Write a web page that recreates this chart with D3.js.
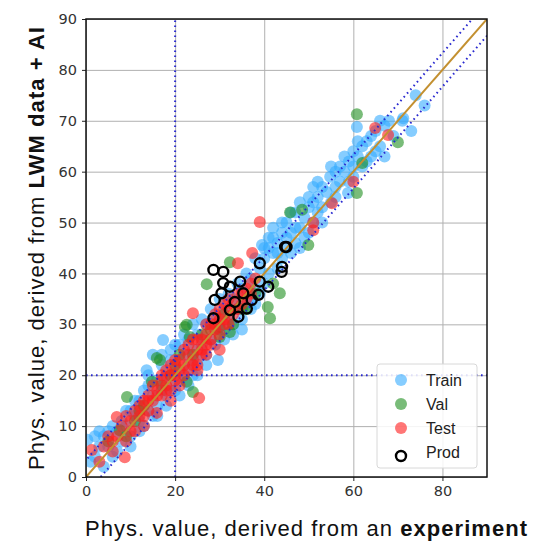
<!DOCTYPE html>
<html>
<head>
<meta charset="utf-8">
<script src="https://cdn.jsdelivr.net/npm/d3@7"></script>
<style>
  body { margin: 0; background: #fff; }
  svg { display: block; font-family: "DejaVu Sans", "Liberation Sans", sans-serif; }
</style>
</head>
<body>
<div id="chart"></div>
<script>
// Data, [experiment, LWM + AI]
var trainPts = [
  [0.3,7.3],[1,3],[2,4],[2,8],[3,6],[3,9],[4,8],[4,2],[5,6],[5,9],[6,4],[6,10],[7,9],[7,5],[8,7],[8,11],
  [9,10],[9,13],[10,8],[10,13],[10,6],[11,12],[11,15],[12,15],[12,11],[12,9],[13,17],[13,10],[13.6,21],
  [14,13],[14,18],[14,20],[15,16],[15,24],[15,12],[16,19],[16,14],[16,12],[17.3,26.9],[17,22],[17,17],
  [17,24],[18,16],[18,20],[18,14],[19,23],[19,18],[19,25],[20,21],[20,17],[20,26],[21,26],[21,19],
  [21,16],[22,24],[22,20],[22,28],[23,22],[23,27],[23,18],[24,25],[24,20],[24,30],[25,28],[25,23],
  [25,20],[26,26],[26,31],[27,30],[27,24],[27,22],[28,27],[28,33],[29.6,23],[29,31],[29,26],[30,29],
  [30,35],[31,33],[31,27],[31,29],[32,31],[32,36],[33,35],[33,30],[33,28],[34,33],[34,38],[35,37],
  [35,31],[35,29],[36,34],[36,40],[37,39],[37,35],[37,33],[38,37],[38,43],[38,34],[39,41],[39,36],
  [40,38],[40,43],[40,45],[39.5,45.6],[41,45],[41,40],[41,47],[42,44],[42,47],[42,49],[43,41],[43,46],
  [43,44],[44,43],[44,48],[44,50],[45,45],[45,50],[45,47],[46,44],[46,48],[46,52],[47,46],[47,52],
  [47,49],[48,49],[48,45],[48,54],[49,51],[49,47],[50,48],[50,53],[50,55],[51,54],[51,50],[51,57],
  [52,55],[52,52],[52,58],[53,57],[53,53],[53,50],[54,56],[54.8,59],[55,54],[55,61],[56,60],[56,55],
  [56,57],[57,58],[57,61],[58,60],[58.8,55.8],[58,63],[59,62],[59,58],[60,59],[60,64],[60,61],
  [60.8,68.8],[61,63],[61,66],[62,65],[62,61],[63,66],[63,62],[64,63],[64,67],[65,68],[65,64],[66,65],
  [66,70],[67,63],[67,69],[68,70],[69,67],[71,70],[71.2,70.5],[73,68],[76,73],[74,75]
];
var valPts = [
  [5,7],[7.6,9.2],[9,8],[9.2,15.7],[11,11],[13,14],[14.8,18.7],[15.9,23.4],[16.6,23],[17,18],[19,20],
  [20,22],[21,24],[22.6,18.7],[24,16.7],[22.2,29.5],[23.3,27.5],[22.6,29.9],[24,24],[26,28],[28,29],
  [30,29.5],[30,27.5],[31,32],[32.3,28.5],[33,30],[27.1,37.9],[32.3,42.2],[35,33],[36,33],[38,36],
  [43.5,36.1],[40.8,33.4],[41.3,31.2],[42,38],[45.8,52],[48.5,52.5],[49.9,45.6],[60.8,55.8],[62,61.7],
  [60.8,71.3],[70,65.8],[12,13]
];
var testPts = [
  [1.3,5.3],[3,3],[4,6],[5,8],[6,5],[6,7],[6.9,11.8],[7,8],[8,10],[8.7,3.9],[9,7],[9,12],[10,11],[10,9],
  [11,9],[11,13],[12,14],[12,12],[13,12],[13,15],[13,10],[14,16],[14,13],[14,15],[15,15],[15,18],
  [15.9,12.6],[16,17],[16,16],[17,16],[17,19],[17,20],[18,18],[18,21],[18,17],[19,17],[19,20],[19,22],
  [19,15],[20,19],[20,23],[20,20],[21,21],[21,18],[21,23],[22,22],[22,25],[22,20],[23,21],[23,24],
  [23,26],[24,23],[24,27],[24,22],[24,32.2],[25,25],[25,22],[25,27],[25,21],[25.4,15.5],[26,27],[26,24],
  [26,25],[27,28],[27,26],[27,30],[27,24],[28,30],[28,27],[28,26],[29,29],[29,32],[29,30],[30,31],
  [30,28],[30,33],[30,25],[31,30],[31,34],[31,31],[32,33],[32,30],[32,35],[33,32],[33,34],[34,36],
  [34,33],[34.1,42],[35,34],[35,36],[36,37],[36,35],[37,36],[37,38],[37.3,44],[38,39],[39,50.1],
  [51,48.5],[51,50],[55.2,53.8],[60,58],[64.9,68.6],[67.8,67.2]
];
var prodPts = [
  [28.6,40.7],[30.8,40.3],[30.8,38.1],[28.9,34.8],[28.6,31.2],[32.3,37.4],[33.4,34.4],[35.3,36.1],
  [36.1,33.1],[37.2,34.8],[39,42],[39,38.4],[38.7,35.8],[40.9,37.4],[43.9,40.3],[45,45.2],[32.3,32.8],
  [30.4,36.1],[34.6,38.4],[34.2,31.5],[44.7,45.2],[44,41.3]
];
var xTicks = [0, 20, 40, 60, 80];
var yTicks = [0, 10, 20, 30, 40, 50, 60, 70, 80, 90];
var band = 3.3;
var refLine = 20;
var legendItems = ["Train", "Val", "Test", "Prod"];

var width = 537, height = 542;
var margin = { left: 86, right: 50, top: 19, bottom: 65 };
var trainColor = "#36acff", valColor = "#1f8f1f", testColor = "#ff1a1a";

var svg = d3.select("#chart").append("svg")
    .attr("width", width).attr("height", height);

var x = d3.scaleLinear().domain([0, 90]).range([margin.left, width - margin.right]);
var y = d3.scaleLinear().domain([0, 90]).range([height - margin.bottom, margin.top]);

var plot = svg.append("g");

// grid
plot.append("g")
    .attr("transform", "translate(0," + y(0) + ")")
    .call(d3.axisBottom(x).tickValues(xTicks).tickSize(-(y(0) - y(90))).tickFormat(""))
    .call(function(g) {
        g.select(".domain").remove();
        g.selectAll("line").attr("stroke", "#b0b0b0").attr("stroke-width", 1);
    });
plot.append("g")
    .attr("transform", "translate(" + x(0) + ",0)")
    .call(d3.axisLeft(y).tickValues(yTicks).tickSize(-(x(90) - x(0))).tickFormat(""))
    .call(function(g) {
        g.select(".domain").remove();
        g.selectAll("line").attr("stroke", "#b0b0b0").attr("stroke-width", 1);
    });

svg.append("clipPath").attr("id", "clip").append("rect")
    .attr("x", x(0)).attr("y", y(90)).attr("width", x(90) - x(0)).attr("height", y(0) - y(90));

var inner = plot.append("g").attr("clip-path", "url(#clip)");

// points
function dots(pts, fill) {
    inner.append("g").selectAll("circle").data(pts).enter().append("circle")
        .attr("cx", function(d) { return x(d[0]); })
        .attr("cy", function(d) { return y(d[1]); })
        .attr("r", 6)
        .attr("fill", fill)
        .attr("fill-opacity", 0.6);
}
dots(trainPts, trainColor);
dots(valPts, valColor);
dots(testPts, testColor);

// reference lines
var dotted = { stroke: "#2a2ad0", width: 2, dash: "1.6,3.4" };
var line = d3.line().x(function(d) { return x(d[0]); }).y(function(d) { return y(d[1]); });
function dottedPath(seg) {
    inner.append("path").attr("d", line(seg)).attr("fill", "none")
        .attr("stroke", dotted.stroke).attr("stroke-width", dotted.width)
        .attr("stroke-dasharray", dotted.dash);
}
dottedPath([[-10, -10 + band], [100, 100 + band]]);
dottedPath([[-10, -10 - band], [100, 100 - band]]);
dottedPath([[refLine, 0], [refLine, 90]]);
dottedPath([[0, refLine], [90, refLine]]);
inner.append("path").attr("d", line([[0, 0], [90, 90]])).attr("fill", "none")
    .attr("stroke", "#c39030").attr("stroke-width", 2);

inner.append("g").selectAll("circle").data(prodPts).enter().append("circle")
    .attr("cx", function(d) { return x(d[0]); })
    .attr("cy", function(d) { return y(d[1]); })
    .attr("r", 5)
    .attr("fill", "none")
    .attr("stroke", "#000")
    .attr("stroke-width", 2.4);

// axes
var xAxis = svg.append("g").attr("transform", "translate(0," + y(0) + ")")
    .call(d3.axisBottom(x).tickValues(xTicks).tickSize(4).tickPadding(5));
var yAxis = svg.append("g").attr("transform", "translate(" + x(0) + ",0)")
    .call(d3.axisLeft(y).tickValues(yTicks).tickSize(4).tickPadding(5));
[xAxis, yAxis].forEach(function(g) {
    g.select(".domain").remove();
    g.selectAll("text").attr("font-size", 14.5).attr("fill", "#333")
        .style("font-family", "'DejaVu Sans', sans-serif");
    g.selectAll("line").attr("stroke", "#222");
});

svg.append("rect")
    .attr("x", x(0)).attr("y", y(90))
    .attr("width", x(90) - x(0)).attr("height", y(0) - y(90))
    .attr("fill", "none").attr("stroke", "#111").attr("stroke-width", 1.5);

// axis titles
var xt = svg.append("text")
    .attr("x", 85).attr("y", 536)
    .attr("textLength", 442).attr("lengthAdjust", "spacing")
    .attr("font-family", "'Liberation Sans', Arial, sans-serif")
    .attr("font-size", 22).attr("fill", "#111");
xt.append("tspan").text("Phys. value, derived from an ");
xt.append("tspan").attr("font-weight", "bold").text("experiment");

var yt = svg.append("text")
    .attr("transform", "translate(44,470) rotate(-90)")
    .attr("textLength", 443).attr("lengthAdjust", "spacing")
    .attr("font-family", "'Liberation Sans', Arial, sans-serif")
    .attr("font-size", 22).attr("fill", "#111");
yt.append("tspan").text("Phys. value, derived from ");
yt.append("tspan").attr("font-weight", "bold").text("LWM data + AI");

// legend
var lg = svg.append("g").attr("transform", "translate(377,364)");
lg.append("rect").attr("width", 100).attr("height", 104).attr("rx", 3)
    .attr("fill", "#fff").attr("fill-opacity", 0.85)
    .attr("stroke", "#d8d8d8");
var legendFill = [trainColor, valColor, testColor, null];
legendItems.forEach(function(name, i) {
    var cy = 16 + i * 24;
    if (legendFill[i]) {
        lg.append("circle").attr("cx", 24).attr("cy", cy).attr("r", 6)
            .attr("fill", legendFill[i]).attr("fill-opacity", 0.6);
    } else {
        lg.append("circle").attr("cx", 24).attr("cy", cy + 4).attr("r", 5)
            .attr("fill", "none").attr("stroke", "#000").attr("stroke-width", 2.4);
    }
    lg.append("text").attr("x", 49).attr("y", cy + 6)
        .attr("font-family", "'Liberation Sans', Arial, sans-serif")
        .attr("font-size", 16).attr("fill", "#222").text(name);
});
</script>
</body>
</html>
